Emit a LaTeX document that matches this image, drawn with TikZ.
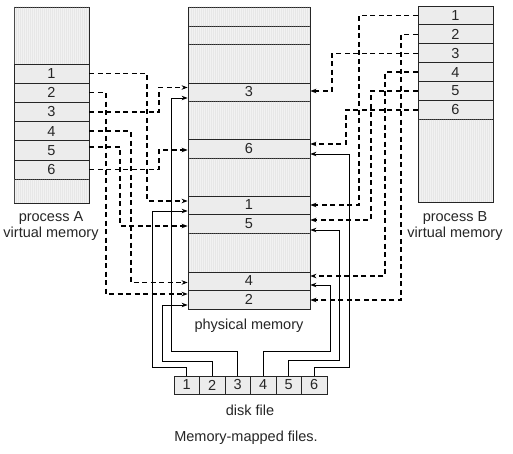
\documentclass[tikz,border=0pt]{standalone}
\usepackage{fontspec}
\setmainfont{Liberation Sans}
\usetikzlibrary{arrows.meta,patterns}
\pgfdeclarepatternformonly{finevlines}{\pgfpointorigin}{\pgfpoint{1.6pt}{1pt}}{\pgfpoint{1.6pt}{1pt}}{%
  \pgfpathrectangle{\pgfpointorigin}{\pgfpoint{0.45pt}{1pt}}\pgfusepath{fill}}
\begin{document}
\begin{tikzpicture}[x=1pt,y=-1pt,
  box/.style={draw=black!85, line width=0.8pt, inner sep=0pt, font=\fontsize{14.5}{16}\selectfont, text=black!85},
  hatch/.style={box, fill=gray!10, postaction={pattern=finevlines, pattern color=gray!45}},
  num/.style={box, fill=gray!15},
  colA/.style={minimum width=75pt},
  colP/.style={minimum width=122pt},
  dcell/.style={num, minimum width=25.5pt, minimum height=18pt},
  lbl/.style={font=\fontsize{14.5}{16}\selectfont, text=black!85, align=center, inner sep=0pt},
  tip/.style={-{Stealth[length=6pt,width=4.5pt]}},
  dconn/.style={tip, draw=black, line width=1.4pt, dash pattern=on 5pt off 3.5pt},
  sconn/.style={tip, draw=black, line width=0.9pt}
]
\useasboundingbox[fill=white] (0,0) rectangle (513,454);

% process A
\node[hatch, colA, minimum height=57pt] (Atop) at (51.5,35.5) {};
\node[num, colA, minimum height=19.2pt] (A1) at (51.5,73.6) {1};
\node[num, colA, minimum height=19.2pt] (A2) at (51.5,92.8) {2};
\node[num, colA, minimum height=19.2pt] (A3) at (51.5,112) {3};
\node[num, colA, minimum height=19.2pt] (A4) at (51.5,131.2) {4};
\node[num, colA, minimum height=19.2pt] (A5) at (51.5,150.4) {5};
\node[num, colA, minimum height=19.2pt] (A6) at (51.5,169.6) {6};
\node[hatch, colA, minimum height=23.8pt] (Abot) at (51.5,191.1) {};
\node[lbl] (LA) at (51,226) {process A\\virtual memory};

% physical memory
\node[hatch, colP, minimum height=19pt] (Ph1) at (249,16.5) {};
\node[hatch, colP, minimum height=18pt] (Ph2) at (249,35) {};
\node[hatch, colP, minimum height=39pt] (Ph3) at (249,63.5) {};
\node[num, colP, minimum height=18pt] (P3) at (249,92) {3};
\node[hatch, colP, minimum height=38pt] (Ph4) at (249,120) {};
\node[num, colP, minimum height=19pt] (P6) at (249,148.5) {6};
\node[hatch, colP, minimum height=38pt] (Ph5) at (249,177) {};
\node[num, colP, minimum height=18pt] (P1) at (249,205) {1};
\node[num, colP, minimum height=19pt] (P5) at (249,223.5) {5};
\node[hatch, colP, minimum height=39pt] (Ph6) at (249,252.5) {};
\node[num, colP, minimum height=18pt] (P4) at (249,281) {4};
\node[num, colP, minimum height=19pt] (P2) at (249,299.5) {2};
\node[lbl] (LP) at (249,326) {physical memory};

% process B
\node[num, colA, minimum height=18.9pt] (B1) at (455.5,15.45) {1};
\node[num, colA, minimum height=18.9pt] (B2) at (455.5,34.35) {2};
\node[num, colA, minimum height=18.9pt] (B3) at (455.5,53.25) {3};
\node[num, colA, minimum height=18.9pt] (B4) at (455.5,72.15) {4};
\node[num, colA, minimum height=18.9pt] (B5) at (455.5,91.05) {5};
\node[num, colA, minimum height=18.9pt] (B6) at (455.5,109.95) {6};
\node[hatch, colA, minimum height=82.6pt] (Bbot) at (455.5,160.7) {};
\node[lbl] (LB) at (455,226) {process B\\virtual memory};

% disk file
\node[dcell] (D1) at (186.75,385) {1};
\node[dcell] (D2) at (212.25,385) {2};
\node[dcell] (D3) at (237.75,385) {3};
\node[dcell] (D4) at (263.25,385) {4};
\node[dcell] (D5) at (288.75,385) {5};
\node[dcell] (D6) at (314.25,385) {6};
\node[lbl] (LD) at (250,410) {disk file};
\node[lbl] (LC) at (246,438) {Memory-mapped files.};

% process A mappings
\draw[dconn] (A1.east) -| (147,201) -- ([yshift=4pt]P1.west);
\draw[dconn] (A2.east) -| (106,294) -- ([yshift=5.5pt]P2.west);
\draw[dconn] (A3.east) -| (159,87.5) -- ([yshift=4.5pt]P3.west);
\draw[dconn] (A4.east) -| (131,282.5) -- ([yshift=-1.5pt]P4.west);
\draw[dconn] ([yshift=3.5pt]A5.east) -| (120,226) -- ([yshift=-2.5pt]P5.west);
\draw[dconn] (A6.east) -| (159,150) -- ([yshift=-1.5pt]P6.west);

% process B mappings
\draw[dconn] (B1.west) -| (359,205) -- (P1.east);
\draw[dconn] (B2.west) -| (401,300) -- ([yshift=-0.5pt]P2.east);
\draw[dconn] (B3.west) -| (332,91) -- ([yshift=1pt]P3.east);
\draw[dconn] (B4.west) -| (385,276) -- ([yshift=5pt]P4.east);
\draw[dconn] (B5.west) -| (371,220) -- ([yshift=3.5pt]P5.east);
\draw[dconn] (B6.west) -| (346,144) -- ([yshift=4.5pt]P6.east);

% disk file mappings
\draw[sconn] (D1.north) |- (152,367) |- ([yshift=-6pt]P1.west);
\draw[sconn] (D2.north) |- (162,361) |- ([yshift=-5.5pt]P2.west);
\draw[sconn] (D3.north) |- (171,351) |- ([yshift=-6pt]P3.west);
\draw[sconn] (D4.north) |- (330,351) |- ([yshift=-4pt]P4.east);
\draw[sconn] (D5.north) |- (339,360) |- ([yshift=-6.5pt]P5.east);
\draw[sconn] (D6.north) |- (349,367) |- ([yshift=-5.5pt]P6.east);
\end{tikzpicture}
\end{document}
